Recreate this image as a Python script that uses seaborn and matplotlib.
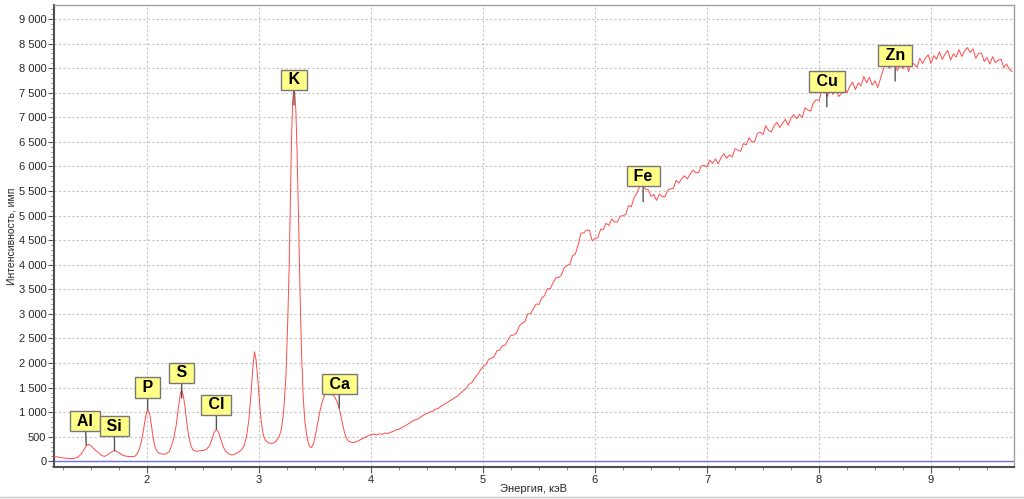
import numpy as np
import matplotlib
matplotlib.use('Agg')
import matplotlib.pyplot as plt
from matplotlib.ticker import MultipleLocator, FuncFormatter
from matplotlib.lines import Line2D
import pandas as pd
import seaborn as sns


#%% DATOS

## Zona de picos (1.17 - 4 keV) ----

e_picos = [1.17, 1.20, 1.23, 1.26, 1.29, 1.32, 1.35, 1.38, 1.41, 1.44, 1.46, 1.48, 1.50,
           1.52, 1.54, 1.56, 1.58, 1.60, 1.62, 1.64, 1.67, 1.70, 1.72, 1.74, 1.77, 1.80,
           1.83, 1.86, 1.89, 1.91,
           1.93, 1.95, 1.97, 1.985, 2.00, 2.01, 2.025, 2.04, 2.055, 2.07, 2.09, 2.11,
           2.14, 2.17, 2.20,
           2.22, 2.24, 2.26, 2.28, 2.30, 2.31, 2.325, 2.34, 2.355, 2.37, 2.39, 2.41,
           2.44, 2.47, 2.50, 2.53, 2.56,
           2.58, 2.60, 2.62, 2.64, 2.66, 2.68, 2.70, 2.73, 2.76, 2.79, 2.82, 2.85, 2.87,
           2.89, 2.91, 2.93, 2.945, 2.96, 2.975, 2.99, 3.005, 3.02, 3.04, 3.06, 3.09,
           3.12, 3.15, 3.18, 3.20,
           3.22, 3.24, 3.255, 3.27, 3.28, 3.29, 3.30, 3.31, 3.32, 3.33, 3.34, 3.35,
           3.36, 3.37, 3.38, 3.395, 3.41, 3.43, 3.45, 3.47,
           3.49, 3.51, 3.53, 3.55, 3.57, 3.59, 3.61, 3.63, 3.645, 3.66, 3.68, 3.70,
           3.72, 3.74, 3.76, 3.78, 3.80, 3.83, 3.86, 3.89, 3.92, 3.95, 3.975]

c_picos = [95, 90, 75, 65, 60, 55, 60, 80, 140, 250, 320, 345, 315,
           270, 225, 190, 150, 115, 100, 120, 170, 210, 215, 190, 140, 110,
           100, 95, 100, 140,
           240, 400, 650, 870, 1020, 1045, 960, 730, 480, 310, 200, 160,
           145, 150, 200,
           320, 480, 720, 1080, 1400, 1450, 1330, 1100, 800, 550, 330, 230,
           200, 215, 220, 240, 320,
           450, 590, 650, 590, 440, 300, 210, 150, 130, 150, 190, 250, 330,
           520, 850, 1400, 1900, 2230, 2050, 1650, 1200, 800, 520, 420, 370,
           365, 400, 500, 650,
           1000, 1700, 2700, 4000, 5300, 6500, 7300, 7555, 7500, 7100, 6300, 5300,
           4200, 3100, 2200, 1300, 800, 480, 300, 280,
           380, 600, 850, 1080, 1250, 1360, 1390, 1400, 1350, 1360, 1290, 1200,
           1050, 830, 620, 470, 410, 380, 390, 420, 460, 490, 520]

## Fondo (4.0 - 9.725 keV, paso 0.025 keV) ----

c_fondo = [545, 555, 535, 560, 550, 575, 565, 590, 610, 640, 650, 690, 715, 750, 785, 830,
           845, 870, 910, 950, 975, 1000, 1020, 1060, 1075, 1120, 1155, 1190, 1225, 1260,
           1300, 1330, 1390, 1440, 1480, 1570, 1600, 1690, 1760, 1850,
           1927, 1962, 2070, 2102, 2129, 2252, 2264, 2351, 2367, 2479, 2565, 2570, 2618,
           2756, 2815, 2843, 3001, 3002, 3105, 3201, 3192, 3327, 3371, 3514, 3507, 3630,
           3734, 3742, 3787, 3937, 3986, 4006, 4185, 4220, 4407, 4646, 4648, 4706, 4700,
           4485,
           4540, 4550, 4720, 4720, 4845, 4800, 4930, 4870, 4870, 4990, 4995, 5028, 5202,
           5182, 5377, 5461, 5605, 5655, 5540, 5525, 5392, 5430, 5310, 5439, 5388, 5382,
           5523, 5545, 5557, 5719, 5663, 5752, 5811, 5746, 5845, 5927, 5870, 5878, 6012,
           6020,
           5990, 6129, 6062, 6153, 6054, 6175, 6260, 6168, 6236, 6194, 6362, 6333, 6308,
           6465, 6440, 6586, 6500, 6503, 6675, 6698, 6650, 6831, 6732, 6703, 6833, 6896,
           6794, 6882, 6960, 6838, 6986, 7054, 6972, 7060, 6998, 7192, 7150, 7127, 7295,
           7360,
           7335, 7550, 7558, 7423, 7568, 7463, 7608, 7423, 7480, 7620, 7498, 7637, 7715,
           7563, 7698, 7640, 7831, 7703, 7815, 7654, 7745, 7605, 7800, 7980, 8152, 7996,
           8058, 8151, 7953, 8080, 7990, 8120, 7930, 8112, 8083, 8014, 8205, 8096, 8204,
           8271,
           8099, 8256, 8184, 8331, 8179, 8285, 8361, 8166, 8292, 8228, 8377, 8238, 8349,
           8420, 8320, 8395, 8199, 8304, 8308, 8139, 8217, 8086, 8234, 8113, 8161, 8183,
           8010, 8087, 7973, 7930]

e_fondo = np.linspace(4.0, 9.725, len(c_fondo))

## Elementos ----

elementos = ['Al', 'Si', 'P', 'S', 'Cl', 'K', 'Ca', 'Fe', 'Cu', 'Zn']
e_elem = [1.458, 1.71, 2.006, 2.31, 2.62, 3.3125, 3.717, 6.43, 8.07, 8.68]
c_elem = [330, 215, 1045, 1290, 650, 7250, 1080, 5285, 7215, 7740]

# altura de las etiquetas (centro de la caja)
y_etiq = [820, 718, 1502, 1797, 1146, 7766, 1573, 5806, 7729, 8258]
dx_etiq = [-0.01, 0, 0, 0, 0, 0, 0, 0, 0, 0]

espectro = pd.DataFrame({'E': np.concatenate([e_picos, e_fondo]),
                         'I': np.concatenate([c_picos, c_fondo])})


#%% GRAFICO

sns.set_style('ticks')
plt.rcParams['font.family'] = ['Liberation Sans', 'DejaVu Sans']

fig = plt.figure(figsize=(10.24, 4.99), dpi=100)
ax = fig.add_axes([54/1024, 1 - 467/499, 960/1024, 462/499])

ax.axhline(0, color='#7070e6', lw=1.0, zorder=2)

sns.lineplot(data=espectro, x='E', y='I', color='#ff4a4a', lw=0.7,
             estimator=None, sort=False, ax=ax, zorder=3)

for nom, x, y, yt, dx in zip(elementos, e_elem, c_elem, y_etiq, dx_etiq):
    ax.annotate(' ' + nom + ' ', xy=(x, y), xytext=(x + dx, yt), ha='center', va='center',
                fontsize=11.5, fontweight='bold', color='black', zorder=5,
                bbox=dict(boxstyle='square,pad=0.16', fc='#ffff88', ec='#777777', lw=1),
                arrowprops=dict(arrowstyle='-', color='#555555', lw=1,
                                shrinkA=0, shrinkB=0))

ax.set_xlim(1.17, 9.741)
ax.set_ylim(-116, 9286)

ax.xaxis.set_major_locator(MultipleLocator(1))
ax.xaxis.set_minor_locator(MultipleLocator(0.25))
ax.yaxis.set_major_locator(MultipleLocator(500))
ax.yaxis.set_minor_locator(MultipleLocator(100))
ax.yaxis.set_major_formatter(FuncFormatter(lambda v, p: f"{v:,.0f}".replace(",", " ")))

ax.grid(True, which='major', color='#c4c4c4', ls=(0, (2, 2)), lw=0.8)
ax.tick_params(axis='both', which='major', labelsize=8, length=4, width=0.8,
               color='#555555', pad=1.5)
ax.tick_params(axis='both', which='minor', length=2, width=0.6, color='#777777')

for lado in ['left', 'bottom']:
    ax.spines[lado].set_color('#505050')
    ax.spines[lado].set_linewidth(1.5)
for lado in ['top', 'right']:
    ax.spines[lado].set_color('#a0a0a0')
    ax.spines[lado].set_linewidth(1.0)

ax.set_xlabel('Энергия, кэВ', fontsize=8)
ax.set_ylabel('Интенсивность, имп', fontsize=7.5)
ax.xaxis.set_label_coords(0.5, -0.037)
ax.yaxis.set_label_coords(-0.0395, 0.5)

fig.add_artist(Line2D([0, 1], [2.5/499, 2.5/499], color='#c8c8c8', lw=1))

fig.savefig('out.png', dpi=100)
